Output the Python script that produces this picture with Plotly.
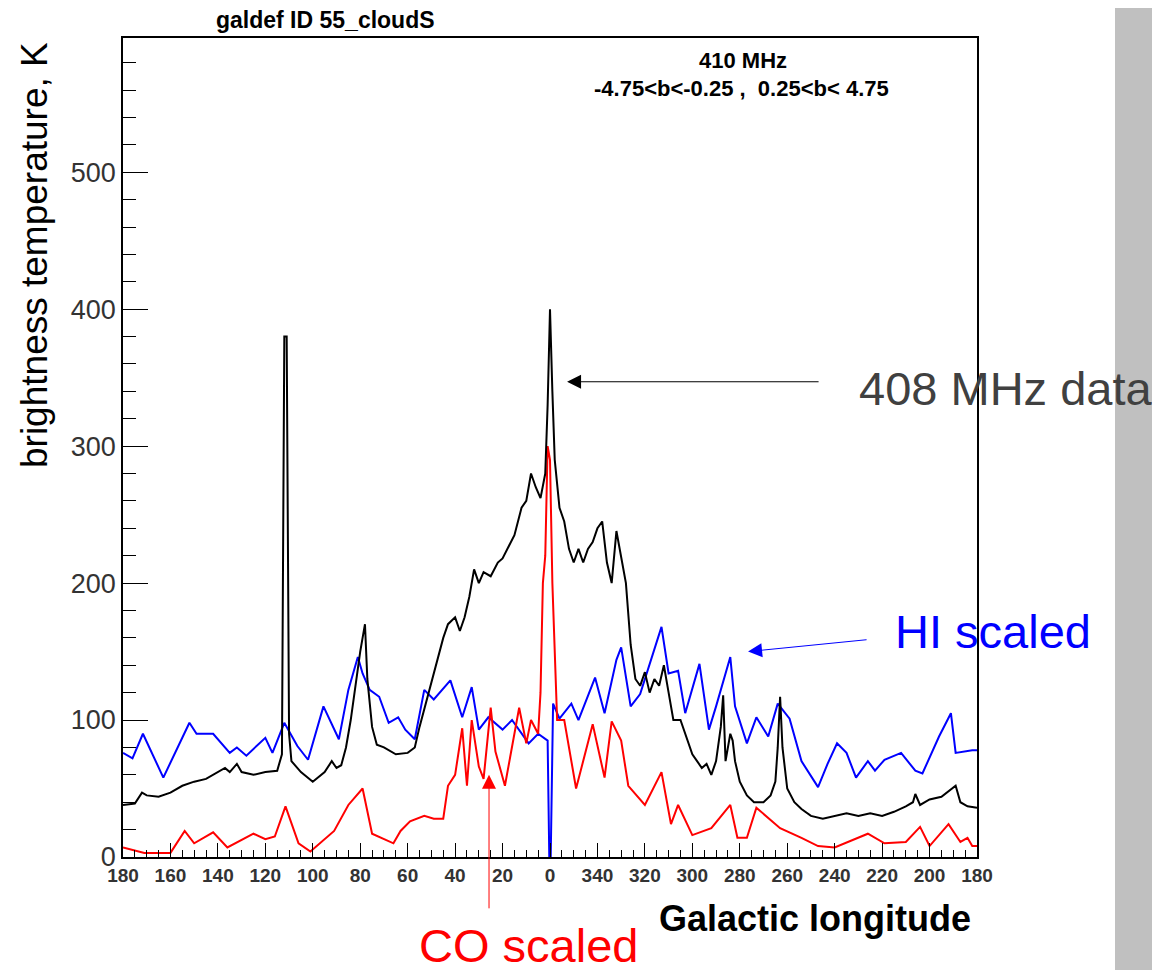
import plotly.graph_objects as go

# longitudes: 180 ... 0 ... -180 (negative = 360+l)
l_408 = [180,175,172,170,165,160,155,150,145,140,137,135,132,130,125,120,115,113,112,111,110,109,105,100,98,95,92,90,88,86,84,82,80,78,77,75,73,70,65,60,57,55,52,50,48,45,43,40,38,36,34,32,30,28,25,22,20,18,15,12,10,8,6,4,2,1,0,-1,-2,-4,-6,-8,-10,-12,-14,-16,-18,-20,-22,-24,-26,-28,-30,-32,-34,-36,-38,-40,-42,-44,-46,-48,-50,-52,-55,-58,-60,-62,-64,-66,-68,-70,-72,-73,-74,-76,-77,-78,-80,-83,-86,-90,-93,-95,-96,-97,-98,-100,-103,-106,-110,-115,-120,-125,-130,-135,-140,-145,-150,-153,-154,-156,-160,-165,-171,-173,-176,-180]
t_408 = [38,39,47,45,44,47,52,55,57,62,65,62,68,62,60,62,63,75,380,380,90,70,62,55,58,62,70,65,67,80,100,125,150,170,130,95,82,80,75,76,80,95,115,128,140,160,170,175,165,175,190,210,200,208,205,215,218,225,235,255,260,280,270,262,280,330,400,340,290,255,245,225,215,225,215,225,230,240,245,215,200,238,220,200,155,130,125,135,120,130,125,140,120,100,100,85,75,70,65,68,60,70,95,118,70,90,85,70,55,45,40,40,45,55,80,117,80,50,40,35,30,28,30,32,30,32,30,33,37,40,46,38,42,44,52,40,37,36]

l_hi = [180,176,171.6,163,152,149,142,135,132,128,120,117,112,106.5,102,95.5,89,85,81,79,76,72,68,64,61,57,53,49,42,37,33,30,26,20,16,9,5,1,0.3,-0.3,-1.3,-4,-9,-12,-19,-23,-28,-30,-34,-38,-47,-50,-54,-57,-63,-67,-70,-76,-78,-83,-87,-92,-96,-101,-106,-113,-117,-121,-125,-129,-134,-137,-141,-148,-154,-157,-164,-169,-171,-178,-180]
t_hi = [76,72,90,58,98,90,90,76,80,74,87,76,98,81,71,110,86,122,146,134,122,117,98,102,93,86,122,115,129,102,124,93,102,93,100,83,90,85,0,0,112,101,112,100,131,105,144,153,110,119,168,134,136,105,141,93,110,146,110,83,102,88,112,101,70,51,68,83,76,58,70,63,71,76,63,61,88,105,76,78,78]

l_co = [180,176,171,160,154,150,142,136,125,120,116,111.5,106,101,95,91,85,79,75,70,66,63,59,53,49,45,43,40,37,35,33,30,28,25,23,19,13,10,8,5,4,3,2,1,0,-1,-2,-3,-6,-11,-18,-23,-26,-30,-33,-40,-47,-51,-54,-60,-68,-76,-79,-83,-87,-97,-106,-113,-120,-134,-141,-150,-156,-160,-168,-173,-176,-178,-180]
t_co = [7,5,3,3,19,10,18,7,17,13,15,37,10,4,13,19,38,50,17,13,10,19,26,30,28,28,52,60,94,52,100,66,57,109,77,52,109,83,100,90,120,200,220,300,290,200,150,100,100,50,97,58,99,85,52,38,62,24,38,16,21,38,14,14,36,21,14,8,7,17,10,11,22,8,24,11,14,8,8]

x_tickvals = [180,160,140,120,100,80,60,40,20,0,-20,-40,-60,-80,-100,-120,-140,-160,-180]
x_ticktext = ["180","160","140","120","100","80","60","40","20","0","340","320","300","280","260","240","220","200","180"]

fig = go.Figure()
fig.add_trace(go.Scatter(x=l_hi, y=t_hi, mode="lines", line=dict(color="#0000ff", width=2), showlegend=False))
fig.add_trace(go.Scatter(x=l_co, y=t_co, mode="lines", line=dict(color="#ff0000", width=2), showlegend=False))
fig.add_trace(go.Scatter(x=l_408, y=t_408, mode="lines", line=dict(color="#000000", width=2), showlegend=False))

OFF = 8  # page body margin
W, H = 1160, 970
L, R, T, B = 123 - OFF, W - 977 + OFF, 38 - OFF, H - 857 + OFF
pw, ph = W - L - R, H - T - B
def px(x): return (x - OFF - L) / pw
def py(y): return (H - B - (y - OFF)) / ph

ann = []
def txt(s, x, y, size, color="black", bold=False, anchor="center", angle=0):
    ann.append(dict(text=f"<b>{s}</b>" if bold else s, x=px(x), y=py(y), xref="paper", yref="paper",
                    showarrow=False, xanchor=anchor, yanchor="middle", textangle=angle,
                    font=dict(size=size, color=color, family="Liberation Sans, Arial")))
txt("galdef ID 55_cloudS", 325, 20, 23, bold=True)
txt("410 MHz", 743, 60, 22, bold=True)
txt("-4.75&lt;b&lt;-0.25 ,  0.25&lt;b&lt; 4.75", 741, 88, 22, bold=True)
txt("Galactic longitude", 815, 918, 36, bold=True)
txt("brightness temperature, K", 35, 255, 37, angle=-90)
txt("408 MHz data", 1005, 388, 47, color="#404040")
txt("HI scaled", 993, 631, 47, color="#0000ff")
txt("CO scaled", 528, 945, 47, color="#ff0000")

for (x, y, ax, ay, c) in [(-7.2, 347, 253, 0, "black"), (-83.5, 150, 120, -12, "#0000ff"), (25.7, 60, 0, 135, "#ff0000")]:
    ann.append(dict(x=x, y=y, xref="x", yref="y", ax=ax, ay=ay, showarrow=True, text="",
                    arrowhead=2, arrowsize=2.8, arrowwidth=1, arrowcolor=c, standoff=0))

fig.update_layout(
    width=W, height=H, margin=dict(l=L, r=R, t=T, b=B),
    plot_bgcolor="white", paper_bgcolor="white",
    annotations=ann,
    shapes=[dict(type="rect", xref="paper", yref="paper", x0=px(1115), x1=px(1175), y0=py(985), y1=py(-20),
                 fillcolor="#c0c0c0", line=dict(width=0), layer="below")],
    xaxis=dict(range=[180, -180], tickvals=x_tickvals, ticktext=["<b>%s</b>" % t for t in x_ticktext],
               ticks="inside", ticklen=14,
               tickcolor="black", showgrid=False, zeroline=False, showline=True, linecolor="black",
               linewidth=1.5, mirror=True, tickfont=dict(size=19, family="Liberation Sans, Arial", color="#333333"),
               minor=dict(ticks="inside", ticklen=7, dtick=5, tickcolor="black")),
    yaxis=dict(range=[0, 598], tickvals=[0, 100, 200, 300, 400, 500], ticks="inside", ticklen=25,
               tickcolor="black", showgrid=False, zeroline=False, showline=True, linecolor="black",
               linewidth=1.5, mirror=True, tickfont=dict(size=27, family="Liberation Sans, Arial", color="#333333"),
               minor=dict(ticks="inside", ticklen=13, dtick=20, tickcolor="black")),
)
fig.write_html("out.html")
